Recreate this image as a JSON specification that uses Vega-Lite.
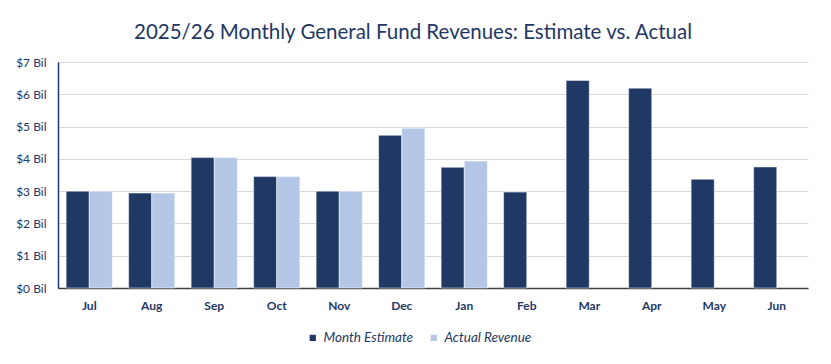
{
  "$schema": "https://vega.github.io/schema/vega-lite/v6.json",
  "width": 750,
  "height": 226,
  "autosize": {"type": "none"},
  "padding": {"left": 58, "right": 23, "top": 62, "bottom": 76},
  "background": "white",
  "title": {
    "text": "2025/26 Monthly General Fund Revenues: Estimate vs. Actual",
    "font": "Lato",
    "fontSize": 20.5,
    "fontWeight": "normal",
    "color": "#1F3864",
    "anchor": "middle",
    "dx": -20,
    "offset": 13
  },
  "data": {
    "values": [
      {"month": "Jul", "series": "Month Estimate", "value": 3.0},
      {"month": "Jul", "series": "Actual Revenue", "value": 3.0},
      {"month": "Aug", "series": "Month Estimate", "value": 2.94},
      {"month": "Aug", "series": "Actual Revenue", "value": 2.94},
      {"month": "Sep", "series": "Month Estimate", "value": 4.04},
      {"month": "Sep", "series": "Actual Revenue", "value": 4.04},
      {"month": "Oct", "series": "Month Estimate", "value": 3.45},
      {"month": "Oct", "series": "Actual Revenue", "value": 3.45},
      {"month": "Nov", "series": "Month Estimate", "value": 3.0},
      {"month": "Nov", "series": "Actual Revenue", "value": 3.0},
      {"month": "Dec", "series": "Month Estimate", "value": 4.73},
      {"month": "Dec", "series": "Actual Revenue", "value": 4.95},
      {"month": "Jan", "series": "Month Estimate", "value": 3.74},
      {"month": "Jan", "series": "Actual Revenue", "value": 3.93},
      {"month": "Feb", "series": "Month Estimate", "value": 2.97},
      {"month": "Mar", "series": "Month Estimate", "value": 6.43},
      {"month": "Apr", "series": "Month Estimate", "value": 6.19},
      {"month": "May", "series": "Month Estimate", "value": 3.37},
      {"month": "Jun", "series": "Month Estimate", "value": 3.75}
    ]
  },
  "mark": {"type": "bar", "stroke": "white", "strokeWidth": 0.5},
  "encoding": {
    "x": {
      "field": "month",
      "type": "nominal",
      "sort": ["Jul", "Aug", "Sep", "Oct", "Nov", "Dec", "Jan", "Feb", "Mar", "Apr", "May", "Jun"],
      "scale": {"paddingInner": 0.26, "paddingOuter": 0.13},
      "axis": {
        "title": null,
        "labelAngle": 0,
        "labelFont": "Lato",
        "labelFontWeight": "bold",
        "labelFontSize": 12,
        "labelColor": "#1F3864",
        "labelPadding": 12,
        "ticks": false,
        "domainColor": "#404040",
        "domainWidth": 1.5
      }
    },
    "xOffset": {
      "field": "series",
      "type": "nominal",
      "sort": ["Month Estimate", "Actual Revenue"],
      "scale": {"paddingInner": 0}
    },
    "y": {
      "field": "value",
      "type": "quantitative",
      "scale": {"domain": [0, 7]},
      "axis": {
        "title": null,
        "values": [0, 1, 2, 3, 4, 5, 6, 7],
        "labelExpr": "'$' + datum.value + ' Bil'",
        "labelFont": "Lato",
        "labelFontSize": 12,
        "labelColor": "#1F3864",
        "labelPadding": 12,
        "ticks": false,
        "domainColor": "#1F3864",
        "domainWidth": 1.5,
        "gridColor": "#D9D9D9",
        "gridWidth": 1.2
      }
    },
    "color": {
      "field": "series",
      "type": "nominal",
      "sort": ["Month Estimate", "Actual Revenue"],
      "scale": {"domain": ["Month Estimate", "Actual Revenue"], "range": ["#1F3864", "#B4C7E7"]},
      "legend": {
        "title": null,
        "orient": "none",
        "legendX": 248,
        "legendY": 269,
        "direction": "horizontal",
        "symbolType": "square",
        "symbolSize": 60,
        "labelFont": "Lato",
        "labelFontStyle": "italic",
        "labelFontSize": 13.5,
        "labelColor": "#1F3864",
        "labelOffset": 4,
        "columnPadding": 12
      }
    }
  },
  "config": {
    "view": {"stroke": null}
  }
}
